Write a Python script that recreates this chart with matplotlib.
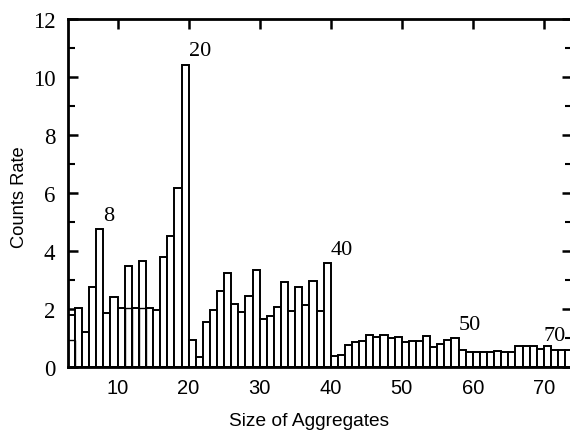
import matplotlib
matplotlib.use("Agg")
import matplotlib.pyplot as plt
from matplotlib.ticker import MultipleLocator
import numpy as np

# Aggregate sizes (each bar covers the interval [size-1, size])
sizes = list(range(4, 75))
counts = [
    1.80, 2.05, 1.20, 2.75, 4.75, 1.87, 2.42, 2.05, 3.48, 2.05,   # 4-13
    3.65, 2.05, 1.98, 3.78, 4.50, 6.17, 10.42,                    # 14-20
    0.95, 0.36, 1.54, 1.98, 2.63, 3.24, 2.16, 1.89, 2.44, 3.34,   # 21-30
    1.66, 1.75, 2.06, 2.92, 1.94, 2.75, 2.15, 2.98, 1.94, 3.57,   # 31-40
    0.37, 0.41, 0.76, 0.85, 0.91, 1.10, 1.02, 1.10, 0.99, 1.02,   # 41-50
    0.85, 0.91, 0.91, 1.06, 0.68, 0.79, 0.94, 0.99,               # 51-58
    0.60, 0.51, 0.53, 0.53, 0.51, 0.56, 0.53, 0.53, 0.74, 0.74,   # 59-68
    0.71, 0.62, 0.71, 0.60, 0.60, 0.60,                           # 69-74
]

# Secondary (overlapping) bar levels visible inside a few bars
inner_sizes = [4, 12, 14]
inner_counts = [0.95, 2.05, 2.05]

# Labelled peaks
peak_sizes = [8, 20, 40, 58, 70]
peak_labels = ["8", "20", "40", "50", "70"]

x_ticks = [10, 20, 30, 40, 50, 60, 70]
y_ticks = [0, 2, 4, 6, 8, 10, 12]

fig = plt.figure(figsize=(5.70, 4.31), dpi=100)
# the frame runs slightly past the right edge of the canvas
ax = fig.add_axes([0.119, 0.146, 0.885, 0.808])

ax.bar(np.array(sizes) - 1, counts, width=1.0, align="edge",
       facecolor="white", edgecolor="black", linewidth=1.4, zorder=2)
ax.bar(np.array(inner_sizes) - 1, inner_counts, width=1.0, align="edge",
       facecolor="none", edgecolor="black", linewidth=1.0, zorder=3)

count_of = dict(zip(sizes, counts))
for s, lab in zip(peak_sizes, peak_labels):
    ax.text(s, count_of[s] + 0.15, lab, ha="left", va="bottom",
            family="Liberation Serif", fontsize=16, color="black", zorder=4)

ax.set_xlim(3, 74)
ax.set_ylim(0, 12)
ax.set_xticks(x_ticks)
ax.set_yticks(y_ticks)
ax.yaxis.set_minor_locator(MultipleLocator(1))

for lab in ax.get_yticklabels():
    lab.set_family("Liberation Serif")
    lab.set_fontsize(16.5)
for lab in ax.get_xticklabels():
    lab.set_family("Liberation Sans")
    lab.set_fontsize(14.5)

ax.tick_params(axis="both", which="major", direction="in", length=7,
               width=1.8, top=True, right=True, color="black")
ax.tick_params(axis="y", which="minor", direction="in", length=5,
               width=1.5, right=True)
ax.tick_params(axis="y", which="major", pad=9)
ax.tick_params(axis="x", which="major", pad=8)

for sp in ax.spines.values():
    sp.set_linewidth(2.0)
    sp.set_color("black")

ax.set_xlabel("Size of Aggregates", family="Liberation Sans", fontsize=13.8)
ax.set_ylabel("Counts Rate", family="Liberation Sans", fontsize=13.2)
ax.xaxis.set_label_coords(0.479, -0.128)
ax.yaxis.set_label_coords(-0.078, 0.49)

fig.savefig("out.png", dpi=100)
